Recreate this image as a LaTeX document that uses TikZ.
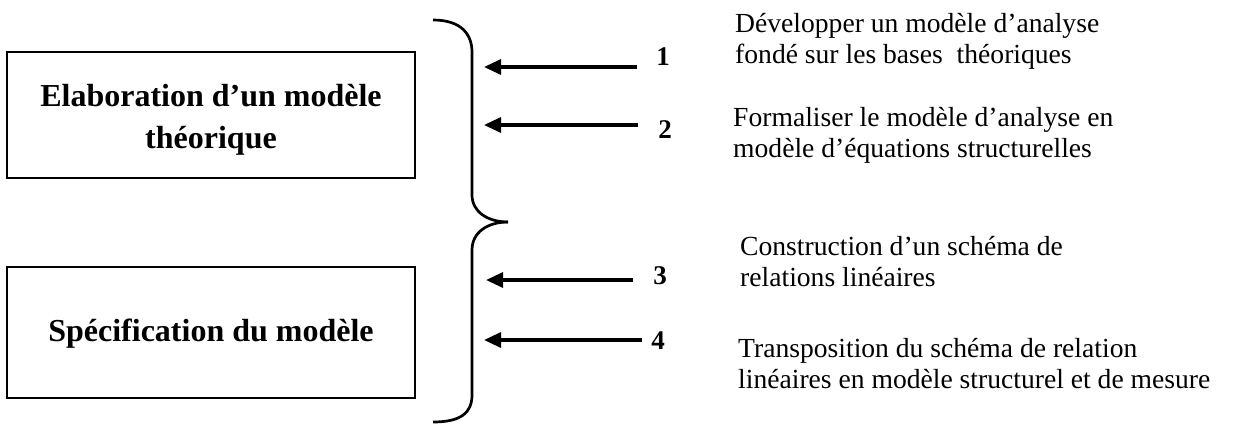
\documentclass[tikz,border=0pt]{standalone}
\usepackage{fontspec}
\setmainfont{Liberation Serif}
\usetikzlibrary{arrows.meta}
\begin{document}
\begin{tikzpicture}[x=1pt,y=-1pt,
  stagebox/.style={draw,line width=2.6pt,minimum width=408pt,inner sep=0pt},
  stagetext/.style={inner sep=0pt,align=center,font=\fontsize{32}{42}\selectfont\bfseries},
  numlabel/.style={inner sep=0pt,font=\fontsize{27}{30}\selectfont\bfseries},
  desc/.style={inner sep=0pt,anchor=base west,align=left,font=\fontsize{27.6}{31}\selectfont},
  feed/.style={line width=3.2pt,-{Triangle[length=17pt,width=15pt]}},
  bracepath/.style={line width=2.7pt,line join=round}]
\useasboundingbox (0,0) rectangle (1252,423);
% stage boxes
\node[stagebox,minimum height=126pt] (elab) at (211,115) {};
\node[stagetext] (elabtxt) at ([yshift=-5pt]elab.center) {Elaboration d’un modèle\\théorique};
\node[stagebox,minimum height=131pt] (spec) at (211,332.5) {};
\node[stagetext] (spectxt) at ([yshift=-1pt]spec.center) {Spécification du modèle};
% braces
\coordinate (btop) at (433,20);
\coordinate (btip) at (508,222);
\coordinate (bbot) at (433,422);
\draw[bracepath] (btop) .. controls (462,20) and (472,35) .. (472,52) -- (472,195)
  .. controls (472,212) and (488,222) .. (btip);
\draw[bracepath] (btip) .. controls (488,222) and (472,232) .. (472,250) -- (472,395)
  .. controls (472,412) and (462,422) .. (bbot);
% numbers
\node[numlabel] (n1) at (663,57) {1};
\node[numlabel] (n2) at (665,130) {2};
\node[numlabel] (n3) at (660,276) {3};
\node[numlabel] (n4) at (658,341) {4};
% arrow ends
\coordinate (s1) at (637,67);  \coordinate (e1) at (484,67);
\coordinate (s2) at (638,125); \coordinate (e2) at (484,125);
\coordinate (s3) at (633,280); \coordinate (e3) at (486,280);
\coordinate (s4) at (642,340); \coordinate (e4) at (484,340);
\draw[feed] (s1) -- (e1);
\draw[feed] (s2) -- (e2);
\draw[feed] (s3) -- (e3);
\draw[feed] (s4) -- (e4);
% descriptions (base anchor = baseline of last line)
\node[desc] (d1) at (735,63) {Développer un modèle d’analyse\\fondé sur les bases\ \ théoriques};
\node[desc] (d2) at (733,157) {Formaliser le modèle d’analyse en\\modèle d’équations structurelles};
\node[desc] (d3) at (740,286) {Construction d’un schéma de\\relations linéaires};
\node[desc] (d4) at (738,388) {Transposition du schéma de relation\\linéaires en modèle structurel\ et de mesure};
\end{tikzpicture}
\end{document}
